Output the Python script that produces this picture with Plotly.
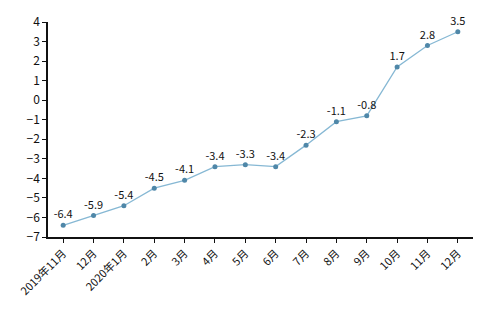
import plotly.graph_objects as go

categories = ["2019年11月", "12月", "2020年1月", "2月", "3月", "4月", "5月", "6月",
              "7月", "8月", "9月", "10月", "11月", "12月"]
values = [-6.4, -5.9, -5.4, -4.5, -4.1, -3.4, -3.3, -3.4, -2.3, -1.1, -0.8, 1.7, 2.8, 3.5]
y_ticks = list(range(-7, 5))

x_idx = list(range(len(categories)))
labels = [f"{v:.1f}" for v in values]

fig = go.Figure()
fig.add_trace(go.Scatter(
    x=x_idx, y=values, mode="lines+markers+text",
    line=dict(color="#86b8d4", width=1.3),
    marker=dict(color="#4f87a8", size=5),
    text=labels, textposition="top center",
    textfont=dict(size=11, color="#111111", family="Noto Sans CJK SC"),
    cliponaxis=False, showlegend=False,
))

fig.update_layout(
    width=495, height=310,
    margin=dict(l=48, r=22, t=13, b=57),
    paper_bgcolor="white", plot_bgcolor="white",
    font=dict(family="Noto Sans CJK SC", size=11, color="#111111"),
    xaxis=dict(
        range=[-0.5, len(categories) - 0.5],
        tickmode="array", tickvals=x_idx, ticktext=categories,
        tickangle=-45, showgrid=False, zeroline=False,
        showline=True, linecolor="#111111", linewidth=1.5,
        ticks="outside", ticklen=4, tickcolor="#111111",
        tickfont=dict(size=11),
    ),
    yaxis=dict(
        range=[-7, 4], tickvals=y_ticks,
        showgrid=False, zeroline=False,
        showline=True, linecolor="#111111", linewidth=1.5,
        ticks="outside", ticklen=4, tickcolor="#111111",
        tickfont=dict(size=12),
    ),
)

fig.write_html("out.html")
